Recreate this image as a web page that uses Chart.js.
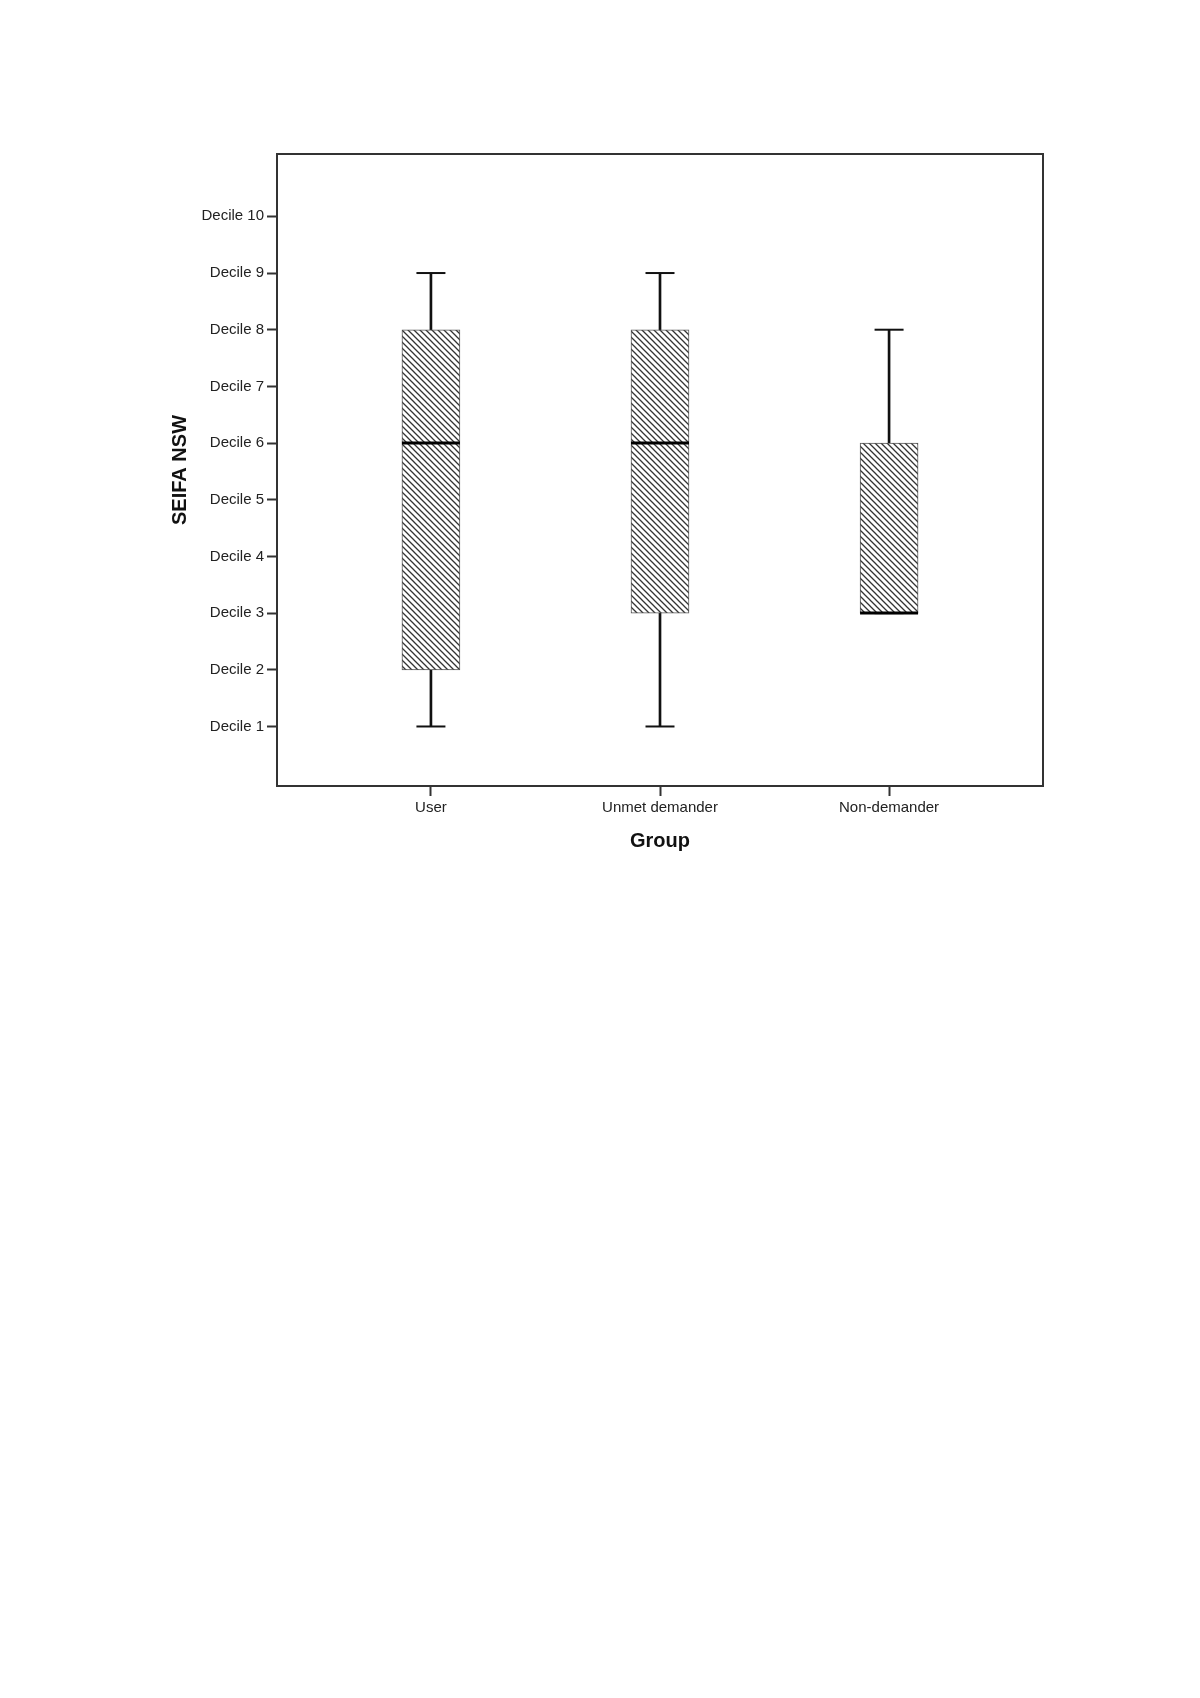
<!DOCTYPE html>
<html>
<head>
<meta charset="utf-8">
<title>SEIFA NSW by Group</title>
<script src="https://cdn.jsdelivr.net/npm/chart.js@4.4.1/dist/chart.umd.min.js"></script>
<style>
  html, body { margin: 0; padding: 0; background: #fff; }
  #wrap { width: 1200px; height: 1698px; }
</style>
</head>
<body>
<div id="wrap"><canvas id="boxChart" width="1200" height="1698"></canvas></div>
<script>
  // box plot values per group (deciles)
  const groups = ['User', 'Unmet demander', 'Non-demander'];
  const mins    = [1, 1, 3];
  const q1s     = [2, 3, 3];
  const medians = [6, 6, 3];
  const q3s     = [8, 8, 6];
  const maxs    = [9, 9, 8];
  const yTicks  = [1, 2, 3, 4, 5, 6, 7, 8, 9, 10];
  const yTickLabels = yTicks.map(d => `Decile ${d}`);

  const FONT = "'Liberation Sans', Arial, sans-serif";

  // diagonal "\" hatch used to fill the boxes
  function makeHatch() {
    const size = 6;
    const c = document.createElement('canvas');
    c.width = size;
    c.height = size;
    const g = c.getContext('2d');
    g.fillStyle = '#fff';
    g.fillRect(0, 0, size, size);
    g.strokeStyle = '#333';
    g.lineWidth = 1.3;
    g.beginPath();
    g.moveTo(-1, -1); g.lineTo(size + 1, size + 1);
    g.moveTo(-1, size - 1); g.lineTo(1, size + 1);
    g.moveTo(size - 1, -1); g.lineTo(size + 1, 1);
    g.stroke();
    return g.createPattern(c, 'repeat');
  }

  // frame round the plot area
  const frame = {
    id: 'frame',
    beforeDatasetsDraw(chart) {
      const { ctx, chartArea: a } = chart;
      ctx.save();
      ctx.strokeStyle = '#333';
      ctx.lineWidth = 2;
      ctx.strokeRect(a.left, a.top, a.right - a.left, a.bottom - a.top);
      ctx.restore();
    }
  };

  const ctx = document.getElementById('boxChart').getContext('2d');
  const hatch = makeHatch();

  new Chart(ctx, {
    type: 'bar',
    data: {
      datasets: [
        {
          // whiskers
          label: 'upper whisker',
          data: groups.map((g, i) => ({ x: i, y: [q3s[i], maxs[i]] })),
          backgroundColor: '#111',
          borderWidth: 0,
          barThickness: 2,
          grouped: false,
          order: 3
        },
        {
          label: 'lower whisker',
          data: groups.map((g, i) => ({ x: i, y: [mins[i], q1s[i]] })),
          backgroundColor: '#111',
          borderWidth: 0,
          barThickness: 2,
          grouped: false,
          order: 3
        },
        {
          // boxes
          label: 'box',
          data: groups.map((g, i) => ({ x: i, y: [q1s[i], q3s[i]] })),
          backgroundColor: hatch,
          borderColor: '#555',
          borderWidth: 1,
          borderSkipped: false,
          barThickness: 58,
          grouped: false,
          order: 2
        },
        {
          // whisker caps
          type: 'scatter',
          label: 'caps',
          data: groups.flatMap((g, i) => [{ x: i, y: maxs[i] }, { x: i, y: mins[i] }]),
          pointStyle: 'line',
          pointRadius: 14.5,
          borderColor: '#111',
          borderWidth: 2,
          showLine: false,
          order: 1
        },
        {
          // medians
          type: 'scatter',
          label: 'median',
          data: groups.map((g, i) => ({ x: i, y: medians[i] })),
          pointStyle: 'line',
          pointRadius: 29,
          borderColor: '#000',
          borderWidth: 3,
          showLine: false,
          order: 0
        }
      ]
    },
    options: {
      responsive: false,
      animation: false,
      events: [],
      layout: {
        padding: { left: 168, top: 154, right: 157, bottom: 845 }
      },
      plugins: {
        legend: { display: false },
        tooltip: { enabled: false }
      },
      scales: {
        x: {
          type: 'linear',
          min: -0.672,
          max: 2.672,
          offset: false,
          afterBuildTicks: scale => { scale.ticks = groups.map((g, i) => ({ value: i })); },
          afterFit: scale => { scale.height = 67; },
          ticks: {
            callback: v => groups[v],
            color: '#222',
            padding: 3,
            maxRotation: 0,
            autoSkip: false,
            font: { family: FONT, size: 15 }
          },
          grid: {
            offset: false,
            drawOnChartArea: false,
            drawTicks: true,
            tickLength: 10,
            tickColor: '#333',
            tickWidth: 2
          },
          border: { display: false },
          title: {
            display: true,
            text: 'Group',
            color: '#111',
            padding: 0,
            font: { family: FONT, size: 20, weight: 'bold' }
          }
        },
        y: {
          type: 'linear',
          min: -0.05,
          max: 11.1,
          afterBuildTicks: scale => { scale.ticks = yTicks.map(v => ({ value: v })); },
          afterFit: scale => { scale.width = 109; },
          ticks: {
            callback: (v, i) => yTickLabels[i],
            color: '#222',
            padding: 3,
            font: { family: FONT, size: 15 }
          },
          grid: {
            drawOnChartArea: false,
            drawTicks: true,
            tickLength: 10,
            tickColor: '#333',
            tickWidth: 2
          },
          border: { display: false },
          title: {
            display: true,
            text: 'SEIFA NSW',
            color: '#111',
            padding: 0,
            font: { family: FONT, size: 20, weight: 'bold' }
          }
        }
      }
    },
    plugins: [frame]
  });
</script>
</body>
</html>
